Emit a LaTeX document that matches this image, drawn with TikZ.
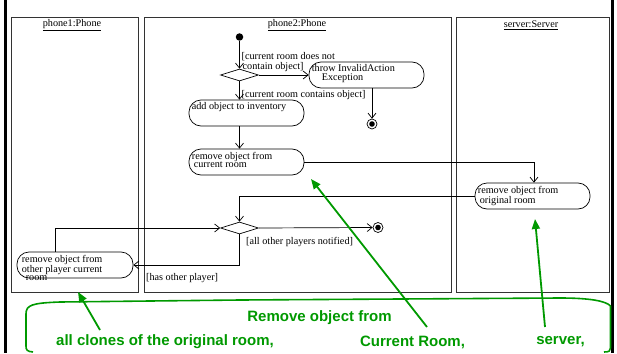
\documentclass[tikz,border=0pt]{standalone}
\usepackage{fontspec}
\setmainfont{Liberation Serif}
\newfontfamily\gsans{Liberation Sans}
\usetikzlibrary{arrows.meta,shapes.geometric}
\definecolor{annot}{RGB}{0,153,0}
\begin{document}
\begin{tikzpicture}[x=1pt,y=-1pt,
  lane/.style={draw=black!80,line width=0.9pt},
  abox/.style={draw,line width=0.7pt,rounded corners=12pt,minimum width=115pt,minimum height=26pt,inner sep=0pt},
  atext/.style={font=\fontsize{10.2}{8.6}\selectfont,align=left,inner sep=0pt,anchor=north west},
  guard/.style={font=\fontsize{10.2}{8}\selectfont,align=left,inner sep=0pt},
  dec/.style={draw,line width=0.7pt,diamond,aspect=3,minimum width=38pt,minimum height=12pt,inner sep=0pt},
  flow/.style={line width=0.7pt,-{Straight Barb[length=5pt,width=8pt]}},
  finalnode/.style={circle,draw,line width=0.7pt,minimum size=10pt,inner sep=0pt,path picture={\fill (path picture bounding box.center) circle (2.8pt);}},
  gline/.style={draw=annot,line width=1.6pt},
  garrow/.style={annot,line width=1.8pt,-{Triangle[length=10pt,width=8pt]}},
  gtext/.style={text=annot,font=\gsans\bfseries\fontsize{15}{15}\selectfont,inner sep=0pt}
]
\useasboundingbox (0,0) rectangle (617,353);
% page edges
\draw[line width=2.6pt] (5.5,0) -- (5.5,353);
\draw[line width=2.6pt] (612.5,0) -- (612.5,353);
% swimlanes
\draw[lane] (11,17) rectangle (138.5,292);
\draw[lane] (144,17) rectangle (451,292);
\draw[lane] (456,17) rectangle (609,292);
\node[guard] (l1) at (72,25) {\underline{phone1:Phone}};
\node[guard] (l2) at (297,25) {\underline{phone2:Phone}};
\node[guard] (l3) at (531,25) {\underline{server:Server}};
% nodes
\node[circle,fill,minimum size=7.5pt,inner sep=0pt] (init) at (239.5,37) {};
\node[dec] (d1) at (239.5,75) {};
\node[abox] (throw) at (366.5,75) {};
\node[atext] (throwt) at ([xshift=3pt,yshift=-3pt]throw.north west) {throw InvalidAction\\\hspace{10pt}Exception};
\node[finalnode] (f1) at (372,124) {};
\node[abox] (add) at (246.5,113) {};
\node[atext] (addt) at ([xshift=3pt,yshift=-3pt]add.north west) {add object to inventory};
\node[abox] (rem) at (246.5,162) {};
\node[atext] (remt) at ([xshift=3pt,yshift=-3pt]rem.north west) {remove object from\\\hspace{2pt}current room};
\node[abox] (srv) at (532.5,196) {};
\node[atext] (srvt) at ([xshift=3pt,yshift=-3pt]srv.north west) {remove object from\\\hspace{2pt}original room};
\node[dec] (d2) at (239.5,228) {};
\node[finalnode] (f2) at (378,227.5) {};
\node[abox,minimum width=116pt] (p1) at (75,265) {};
\node[atext] (p1t) at ([xshift=5pt,yshift=-3pt]p1.north west) {remove object from\\other player current\\\hspace{4pt}room};
% guards
\node[guard,anchor=north west] (g1) at (241.5,52.5) {[current room does not\\\hspace{1pt}contain object]};
\node[guard,anchor=west] (g2) at (241.5,95) {[current room contains object]};
\node[guard,anchor=west] (g3) at (246,242) {[all other players notified]};
\node[guard,anchor=west] (g4) at (146,278) {[has other player]};
% flows
\draw[flow] (init) -- (d1.north);
\draw[flow] (d1.east) -- (throw.west);
\draw[flow] (f1 |- throw.south) -- (f1.north);
\draw[flow] (d1.south) -- (d1.south |- add.north);
\draw[flow] (d1.south |- add.south) -- (d1.south |- rem.north);
\draw[flow] (rem.east) -| ([xshift=1.5pt]srv.north);
\draw[flow] (srv.west) -| (d2.north);
\draw[flow] (d2.east) -- (f2.west);
\draw[flow] (d2.south) |- (p1.east);
\draw[flow] ([xshift=-20pt]p1.north) |- (d2.west);
% annotation
\draw[gline,line join=round] (33,352) .. controls (27,351.5) and (26,350) .. (26,346) -- (26,314) .. controls (26,305) and (32,303) .. (60,302) -- (240,300) -- (560,298) .. controls (590,298) and (606,301) .. (610.5,306) -- (610.5,348) .. controls (610.5,351) and (609,352) .. (604,352);
\node[gtext] (gt1) at (319.5,318) {Remove object from};
\node[gtext] (gt2) at (165,342) {all clones of the original room,};
\node[gtext] (gt3) at (412.5,342) {Current Room,};
\node[gtext] (gt4) at (560.5,342) {server,};
\coordinate (a1) at (100,330);
\coordinate (a2) at (427,327);
\coordinate (a3) at (545,327);
\draw[garrow] (a1) -- (78,292);
\draw[garrow] (a2) -- (311,179);
\draw[garrow] (a3) -- (535,219);
\end{tikzpicture}
\end{document}
